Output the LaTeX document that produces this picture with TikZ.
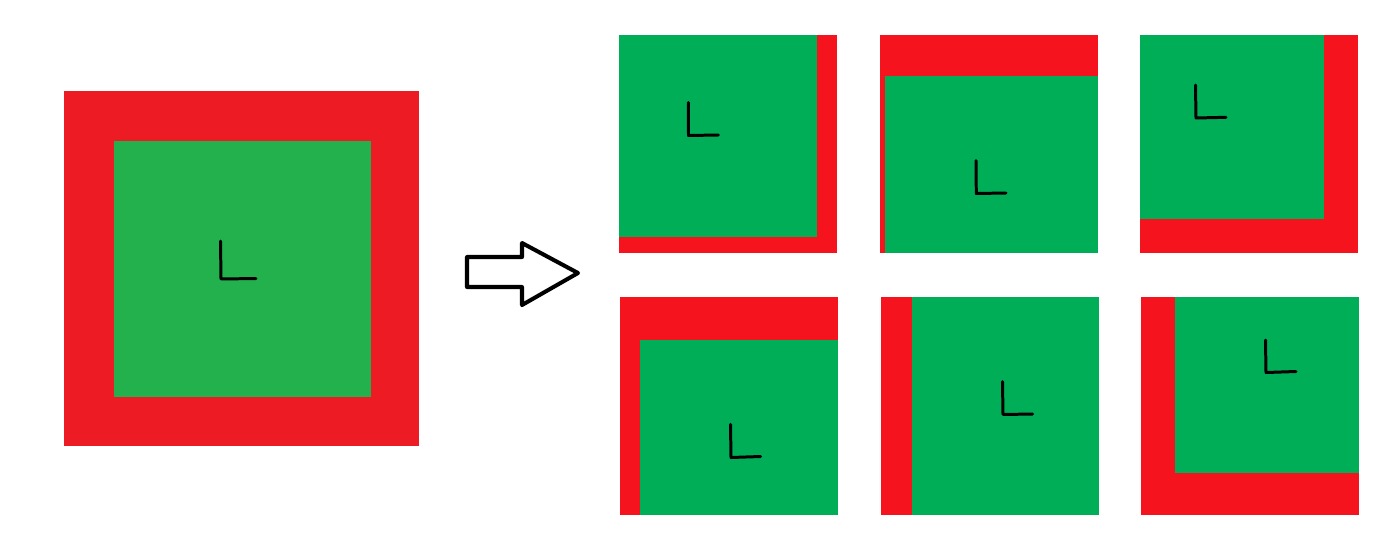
\documentclass[tikz,border=0pt]{standalone}
\definecolor{bigred}{HTML}{ED1C24}
\definecolor{biggreen}{HTML}{22B14C}
\definecolor{tilered}{HTML}{F5141E}
\definecolor{tilegreen}{HTML}{00AE58}
\begin{document}
\begin{tikzpicture}[x=0.02cm,y=-0.02cm, line join=round, line cap=round]
		\tikzset{Lmark/.style={line width=1.7pt}, bigarrow/.style={line width=2.3pt, fill=white}}
		\def\W{1394} \def\H{545} % kích thước
		\useasboundingbox (0,0) rectangle (\W,\H);
		% hình vuông lớn
		\fill[bigred] (64,91) rectangle (419,446);
		\fill[biggreen] (114,141) rectangle (371,397);
		\draw[Lmark] (220.5,241)--(221,279)--(256,278.5);
		% mũi tên
		\draw[bigarrow] (467,257)--(522,257)--(522,243)--(578,273)--(522,305)--(522,287)--(467,287)--cycle;
		% hàng trên
		\fill[tilered] (619,35) rectangle (837,253);
		\fill[tilegreen] (619,35) rectangle (817,237);
		\draw[Lmark] (688.3,102.5)--(688.5,135.5)--(718.3,135);
		\fill[tilered] (880,35) rectangle (1098,253);
		\fill[tilegreen] (885,76) rectangle (1098,253);
		\draw[Lmark] (976,160.7)--(976.3,193.5)--(1006,193);
		\fill[tilered] (1140,35) rectangle (1358,253);
		\fill[tilegreen] (1140,35) rectangle (1323.5,219);
		\draw[Lmark] (1195.5,85)--(1196,118)--(1226,117.3);
		% hàng dưới
		\fill[tilered] (620,297) rectangle (838,515);
		\fill[tilegreen] (639.5,339.5) rectangle (838,515);
		\draw[Lmark] (730.5,424.3)--(731,457.5)--(760.7,456.5);
		\fill[tilered] (881,297) rectangle (1099,515);
		\fill[tilegreen] (911.7,297) rectangle (1099,515);
		\draw[Lmark] (1002.5,381.7)--(1003,414.5)--(1032.7,414);
		\fill[tilered] (1141,297) rectangle (1359,515);
		\fill[tilegreen] (1175,297) rectangle (1359,472.7);
		\draw[Lmark] (1265.5,340)--(1266,372.5)--(1296,371.5);
\end{tikzpicture}
\end{document}
